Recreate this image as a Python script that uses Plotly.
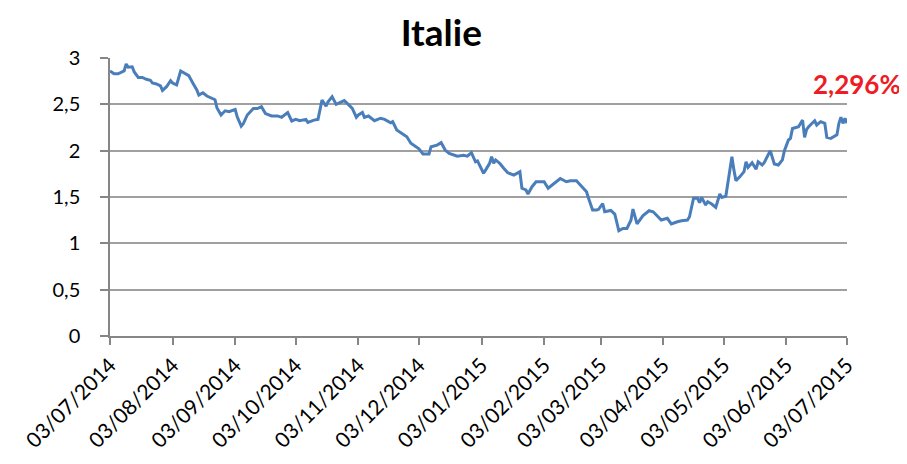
import plotly.graph_objects as go

dates = [
    "2014-07-03", "2014-07-05", "2014-07-07", "2014-07-10", "2014-07-11", "2014-07-12", "2014-07-14",
    "2014-07-15", "2014-07-17", "2014-07-19", "2014-07-21", "2014-07-23", "2014-07-24", "2014-07-26",
    "2014-07-28", "2014-07-29", "2014-07-31", "2014-08-02", "2014-08-03", "2014-08-05", "2014-08-07",
    "2014-08-09", "2014-08-11", "2014-08-13", "2014-08-15", "2014-08-16", "2014-08-18", "2014-08-20",
    "2014-08-21", "2014-08-24", "2014-08-25", "2014-08-27", "2014-08-29", "2014-08-31", "2014-09-03",
    "2014-09-04", "2014-09-06", "2014-09-07", "2014-09-09", "2014-09-12", "2014-09-14", "2014-09-16",
    "2014-09-18", "2014-09-21", "2014-09-24", "2014-09-26", "2014-09-29", "2014-10-01", "2014-10-03",
    "2014-10-05", "2014-10-08", "2014-10-09", "2014-10-12", "2014-10-14", "2014-10-16", "2014-10-18",
    "2014-10-19", "2014-10-21", "2014-10-23", "2014-10-24", "2014-10-27", "2014-10-29", "2014-10-31",
    "2014-11-02", "2014-11-03", "2014-11-05", "2014-11-06", "2014-11-08", "2014-11-11", "2014-11-14",
    "2014-11-16", "2014-11-19", "2014-11-20", "2014-11-22", "2014-11-24", "2014-11-27", "2014-11-29",
    "2014-12-01", "2014-12-03", "2014-12-05", "2014-12-08", "2014-12-09", "2014-12-12", "2014-12-14",
    "2014-12-16", "2014-12-18", "2014-12-22", "2014-12-25", "2014-12-27", "2014-12-29", "2014-12-31",
    "2015-01-01", "2015-01-04", "2015-01-05", "2015-01-07", "2015-01-08", "2015-01-09", "2015-01-10",
    "2015-01-12", "2015-01-14", "2015-01-16", "2015-01-19", "2015-01-21", "2015-01-22", "2015-01-23",
    "2015-01-25", "2015-01-26", "2015-01-28", "2015-01-30", "2015-02-01", "2015-02-03", "2015-02-05",
    "2015-02-07", "2015-02-10", "2015-02-11", "2015-02-14", "2015-02-16", "2015-02-19", "2015-02-21",
    "2015-02-24", "2015-02-25", "2015-02-27", "2015-03-01", "2015-03-02", "2015-03-04", "2015-03-05",
    "2015-03-08", "2015-03-10", "2015-03-12", "2015-03-14", "2015-03-16", "2015-03-18", "2015-03-19",
    "2015-03-21", "2015-03-24", "2015-03-27", "2015-03-29", "2015-04-01", "2015-04-02", "2015-04-05",
    "2015-04-07", "2015-04-10", "2015-04-12", "2015-04-15", "2015-04-16", "2015-04-18", "2015-04-20",
    "2015-04-21", "2015-04-22", "2015-04-24", "2015-04-25", "2015-04-27", "2015-04-29", "2015-05-01",
    "2015-05-02", "2015-05-04", "2015-05-07", "2015-05-08", "2015-05-09", "2015-05-11", "2015-05-13",
    "2015-05-14", "2015-05-15", "2015-05-17", "2015-05-19", "2015-05-20", "2015-05-22", "2015-05-23",
    "2015-05-26", "2015-05-28", "2015-05-30", "2015-06-01", "2015-06-02", "2015-06-04", "2015-06-05",
    "2015-06-06", "2015-06-09", "2015-06-11", "2015-06-12", "2015-06-13", "2015-06-14", "2015-06-17",
    "2015-06-18", "2015-06-20", "2015-06-22", "2015-06-23", "2015-06-25", "2015-06-28", "2015-06-29",
    "2015-06-30", "2015-07-01", "2015-07-02", "2015-07-03",
]

rates = [
    2.86, 2.83, 2.83, 2.86, 2.935, 2.90, 2.905,
    2.85, 2.79, 2.79, 2.77, 2.76, 2.73, 2.72,
    2.70, 2.65, 2.69, 2.755, 2.73, 2.71, 2.86,
    2.835, 2.81, 2.73, 2.655, 2.60, 2.625, 2.59,
    2.58, 2.55, 2.46, 2.385, 2.43, 2.42, 2.445,
    2.365, 2.265, 2.29, 2.385, 2.455, 2.455, 2.475,
    2.40, 2.375, 2.375, 2.36, 2.41, 2.32, 2.338,
    2.323, 2.338, 2.305, 2.33, 2.338, 2.547, 2.48,
    2.528, 2.583, 2.50, 2.51, 2.54, 2.50, 2.457,
    2.36, 2.385, 2.413, 2.36, 2.374, 2.323, 2.35,
    2.338, 2.30, 2.313, 2.223, 2.194, 2.15, 2.08,
    2.05, 2.02, 1.965, 1.965, 2.043, 2.06, 2.086,
    2.007, 1.97, 1.94, 1.95, 1.94, 1.978, 1.88,
    1.89, 1.756, 1.79, 1.864, 1.935, 1.864, 1.90,
    1.864, 1.81, 1.762, 1.737, 1.756, 1.773, 1.594,
    1.576, 1.532, 1.611, 1.665, 1.665, 1.665, 1.594,
    1.63, 1.683, 1.70, 1.665, 1.676, 1.676, 1.63,
    1.557, 1.486, 1.36, 1.36, 1.367, 1.43, 1.341,
    1.355, 1.315, 1.135, 1.16, 1.16, 1.25, 1.37,
    1.209, 1.30, 1.352, 1.341, 1.27, 1.252, 1.27,
    1.209, 1.233, 1.244, 1.252, 1.287, 1.486, 1.486,
    1.438, 1.496, 1.414, 1.449, 1.424, 1.388, 1.532,
    1.496, 1.51, 1.935, 1.79, 1.676, 1.72, 1.773,
    1.88, 1.82, 1.87, 1.80, 1.88, 1.845, 1.87,
    2.0, 1.856, 1.845, 1.90, 2.0, 2.115, 2.133,
    2.24, 2.258, 2.33, 2.144, 2.23, 2.258, 2.323,
    2.277, 2.313, 2.295, 2.144, 2.133, 2.17, 2.295,
    2.36, 2.295, 2.35, 2.296,
]

x_tick_vals = [
    "2014-07-03", "2014-08-03", "2014-09-03", "2014-10-03", "2014-11-03", "2014-12-03",
    "2015-01-03", "2015-02-03", "2015-03-03", "2015-04-03", "2015-05-03", "2015-06-03", "2015-07-03",
]
x_tick_text = [
    "03/07/2014", "03/08/2014", "03/09/2014", "03/10/2014", "03/11/2014", "03/12/2014",
    "03/01/2015", "03/02/2015", "03/03/2015", "03/04/2015", "03/05/2015", "03/06/2015", "03/07/2015",
]
y_tick_vals = [0, 0.5, 1, 1.5, 2, 2.5, 3]
y_tick_text = ["0", "0,5", "1", "1,5", "2", "2,5", "3"]

title_text = "Italie"
last_label = "2,296%"

fig = go.Figure()
fig.add_trace(go.Scatter(
    x=dates, y=rates, mode="lines",
    line=dict(color="#4a7ebb", width=3),
    hoverinfo="x+y", showlegend=False,
))

fig.update_layout(
    width=899, height=456,
    margin=dict(l=97, r=60, t=50, b=128),
    paper_bgcolor="white", plot_bgcolor="white",
    font=dict(family="Lato, 'Open Sans', sans-serif", color="#000000"),
    title=dict(text="<b>" + title_text + "</b>", x=0.482, xanchor="center",
               y=0.945, yanchor="middle", font=dict(size=37, color="#000000")),
    xaxis=dict(
        type="date", range=[x_tick_vals[0], x_tick_vals[-1]],
        tickmode="array", tickvals=x_tick_vals, ticktext=x_tick_text,
        tickangle=-45, tickfont=dict(size=21, color="#000000"),
        showgrid=False, zeroline=False,
        showline=True, linecolor="#868686", linewidth=1.5,
        ticks="outside", ticklen=7, tickcolor="#868686", tickwidth=1.5,
    ),
    yaxis=dict(
        range=[0, 3], tickmode="array", tickvals=y_tick_vals, ticktext=y_tick_text,
        tickfont=dict(size=20, color="#000000"), ticklabelstandoff=16,
        showgrid=True, gridcolor="#a0a0a0", gridwidth=1.5, zeroline=False,
        showline=True, linecolor="#868686", linewidth=1.5,
        ticks="outside", ticklen=8, tickcolor="#868686", tickwidth=1.5,
    ),
    annotations=[dict(
        text="<b>" + last_label + "</b>", xref="paper", yref="y",
        x=1.0135, y=2.715, xanchor="center", yanchor="middle", showarrow=False,
        font=dict(size=26, color="#ee1c25"),
    )],
)

fig.write_html("out.html")
